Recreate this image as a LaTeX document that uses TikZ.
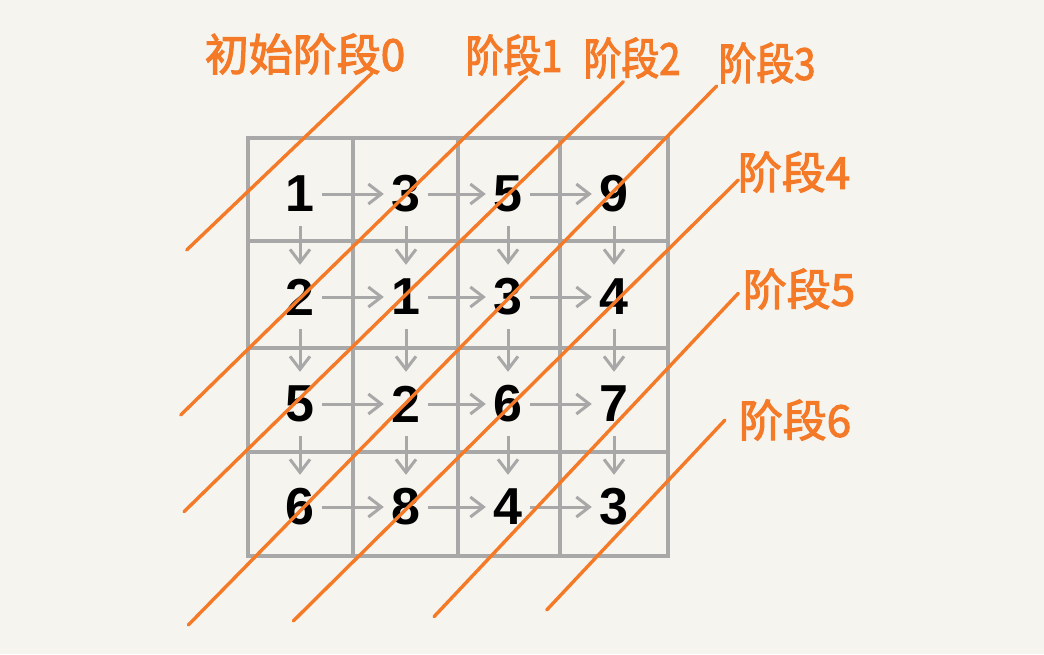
\documentclass[tikz,border=0pt]{standalone}
\usepackage{fontspec}
\usepackage{xcolor}
\usetikzlibrary{arrows.meta}
\newfontfamily\cjkfont{Noto Sans CJK SC}[FakeBold=2.5]
\newfontfamily\cjknarrow{Noto Sans CJK SC}[FakeBold=2.5, FakeStretch=0.86]
\newfontfamily\numfont{Liberation Sans}
\definecolor{paper}{RGB}{245,244,239}
\definecolor{gridgray}{RGB}{168,168,168}
\definecolor{stageorange}{RGB}{244,122,40}

\begin{document}
\begin{tikzpicture}[
  x=1pt, y=-1pt,
  num/.style={inner sep=0pt, minimum width=44pt, minimum height=64pt, font=\numfont\bfseries\fontsize{52}{52}\selectfont},
  lab/.style={inner sep=0pt, text=stageorange, font=\cjkfont\fontsize{44}{44}\selectfont},
  narrowlab/.style={lab, font=\cjknarrow\fontsize{44}{44}\selectfont},
  gridline/.style={draw=gridgray, line width=4pt},
  arr/.style={-{Straight Barb[length=13pt, width=20pt]}, draw=gridgray, line width=3pt},
  stage/.style={draw=stageorange, line width=3.4pt, line cap=round}
]
\path[fill=paper] (0,0) rectangle (1044,654);
% table
\draw[gridline] (248,138) rectangle (668,556);
\draw[gridline] (353,138) -- (353,556) (458,138) -- (458,556) (560,138) -- (560,556);
\draw[gridline] (248,241) -- (668,241) (248,348) -- (668,348) (248,452) -- (668,452);
% cell values
\node[num] (n11) at (300,194) {1}; \node[num] (n12) at (406,194) {3};
\node[num] (n13) at (508,194) {5}; \node[num] (n14) at (614,194) {9};
\node[num] (n21) at (300,297) {2}; \node[num] (n22) at (406,297) {1};
\node[num] (n23) at (508,297) {3}; \node[num] (n24) at (614,297) {4};
\node[num] (n31) at (300,404) {5}; \node[num] (n32) at (406,404) {2};
\node[num] (n33) at (508,404) {6}; \node[num] (n34) at (614,404) {7};
\node[num] (n41) at (300,507) {6}; \node[num] (n42) at (406,507) {8};
\node[num] (n43) at (508,507) {4}; \node[num] (n44) at (614,507) {3};
% moves right
\draw[arr] (n11) -- (n12); \draw[arr] (n12) -- (n13); \draw[arr] (n13) -- (n14);
\draw[arr] (n21) -- (n22); \draw[arr] (n22) -- (n23); \draw[arr] (n23) -- (n24);
\draw[arr] (n31) -- (n32); \draw[arr] (n32) -- (n33); \draw[arr] (n33) -- (n34);
\draw[arr] (n41) -- (n42); \draw[arr] (n42) -- (n43); \draw[arr] (n43) -- (n44);
% moves down
\draw[arr] (n11) -- (n21); \draw[arr] (n12) -- (n22); \draw[arr] (n13) -- (n23); \draw[arr] (n14) -- (n24);
\draw[arr] (n21) -- (n31); \draw[arr] (n22) -- (n32); \draw[arr] (n23) -- (n33); \draw[arr] (n24) -- (n34);
\draw[arr] (n31) -- (n41); \draw[arr] (n32) -- (n42); \draw[arr] (n33) -- (n43); \draw[arr] (n34) -- (n44);
% stage labels
\node[lab] (l0) at (305,54) {初始阶段0};
\node[narrowlab] (l1) at (514,55) {阶段1};
\node[narrowlab] (l2) at (632,58) {阶段2};
\node[narrowlab] (l3) at (767,63) {阶段3};
\node[lab] (l4) at (794,172) {阶段4};
\node[lab] (l5) at (799,289) {阶段5};
\node[lab] (l6) at (795,420) {阶段6};
% stage lines
\coordinate (a0) at (186.7,250); \coordinate (b0) at (371.7,73.3);
\coordinate (a1) at (180.7,415); \coordinate (b1) at (526.7,76.7);
\coordinate (a2) at (184,511.7); \coordinate (b2) at (623.3,81.7);
\coordinate (a3) at (188.3,625); \coordinate (b3) at (716.7,86);
\coordinate (a4) at (293.3,621); \coordinate (b4) at (738.3,180);
\coordinate (a5) at (434,616.7); \coordinate (b5) at (738.3,293.3);
\coordinate (a6) at (546.7,610); \coordinate (b6) at (725,420);
\draw[stage] (a0) -- (b0); \draw[stage] (a1) -- (b1); \draw[stage] (a2) -- (b2);
\draw[stage] (a3) -- (b3); \draw[stage] (a4) -- (b4); \draw[stage] (a5) -- (b5);
\draw[stage] (a6) -- (b6);
\end{tikzpicture}
\end{document}
